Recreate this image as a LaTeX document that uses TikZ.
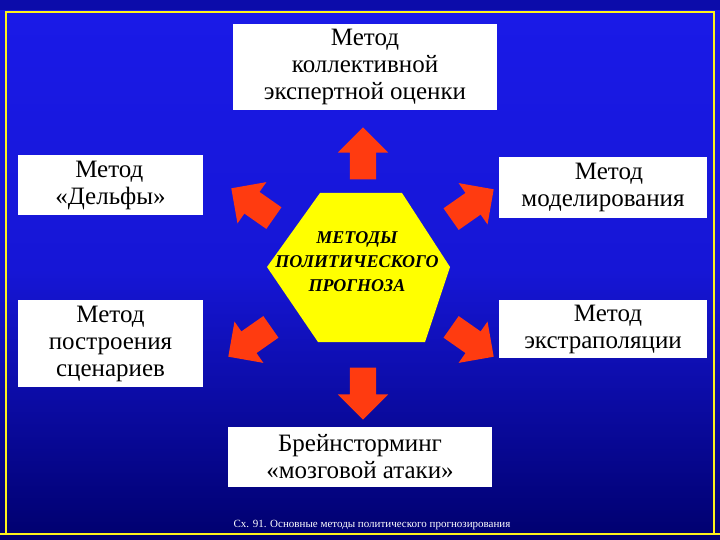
\documentclass[tikz,border=0pt]{standalone}
\usepackage{fontspec}
\setmainfont{Liberation Serif}
\usetikzlibrary{shapes.arrows,shapes.geometric}
\definecolor{bgtop}{HTML}{1A1AE8}
\definecolor{bgbot}{HTML}{00006E}
\definecolor{arr}{HTML}{FF3B10}
\definecolor{hexy}{HTML}{FFFF00}
\begin{document}
\begin{tikzpicture}[x=1pt,y=-1pt,
  box/.style={fill=white,draw=none,align=center,font=\fontsize{25}{27}\selectfont,inner sep=0pt},
  bigarrow/.style={single arrow,fill=arr,draw=none,minimum width=50pt,minimum height=52pt,single arrow head extend=12pt,inner xsep=0pt,inner ysep=13pt,single arrow tip angle=90}]
\useasboundingbox (0,0) rectangle (720,540);
\shade[top color=bgtop,bottom color=bgbot,middle color=bgtop!85!bgbot] (0,0) rectangle (720,540);
\fill[bgbot,opacity=0.5] (0,0) rectangle (720,10);
\draw[yellow!90!white,line width=2.5pt] (6,534) -- (6,12) -- (714,12) -- (714,534);
\draw[yellow!90!white,line width=2.5pt] (0,534) -- (720,534);
% boxes
\node[box,minimum width=264pt,minimum height=86pt] (top) at (365,67) {Метод\\коллективной\\экспертной оценки};
\node[box,minimum width=185pt,minimum height=60pt,align=left] (del) at (110.5,185) {\hspace*{20pt}Метод\\«Дельфы»};
\node[box,minimum width=208pt,minimum height=61pt] (mod) at (603,187.5) {\hspace*{12pt}Метод\\ моделирования};
\node[box,minimum width=185pt,minimum height=87pt] (scen) at (110.5,343.5) {Метод\\построения\\сценариев};
\node[box,minimum width=208pt,minimum height=58pt] (ext) at (603,329) {\hspace*{10pt}Метод\\ экстраполяции};
\node[box,minimum width=264pt,minimum height=60pt] (brain) at (360,457) {Брейнсторминг\\«мозговой атаки»};
% hexagon
\fill[hexy] (320,193) -- (402,193) -- (450,267) -- (425,342) -- (318,342) -- (267,267) -- cycle;
\node[align=center,font=\itshape\bfseries\fontsize{18}{24}\selectfont] (hex) at (357,262) {МЕТОДЫ\\ПОЛИТИЧЕСКОГО\\ПРОГНОЗА};
% arrows
\node[bigarrow,rotate=90] (aup) at (363,160) {};
\node[bigarrow,rotate=270] (adn) at (363,387) {};
\node[bigarrow,rotate=145] (aul) at (258,207) {};
\node[bigarrow,rotate=35] (aur) at (467,208) {};
\node[bigarrow,rotate=215] (all) at (255,338) {};
\node[bigarrow,rotate=325] (alr) at (467,338) {};
\node[white,font=\fontsize{11}{13}\selectfont] (cap) at (372,525) {Сх. 91. Основные методы политического прогнозирования};
\end{tikzpicture}
\end{document}
